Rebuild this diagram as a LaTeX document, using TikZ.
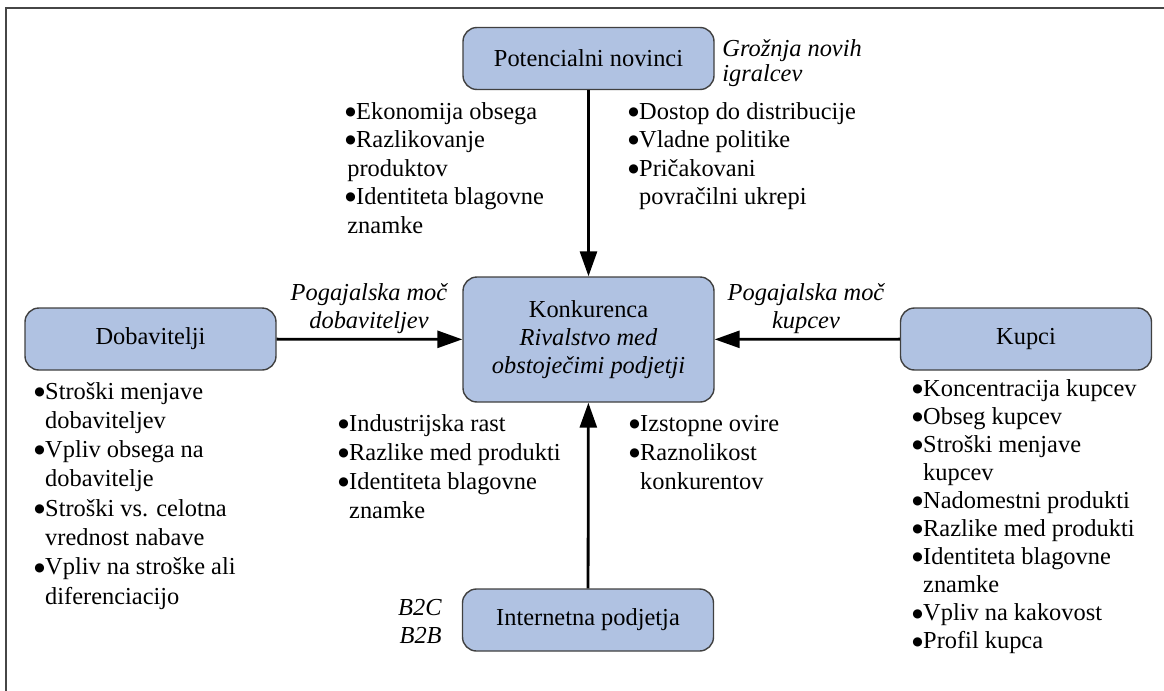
\documentclass[tikz,border=0pt]{standalone}
\usepackage{fontspec}
\setmainfont{Liberation Serif}
\newfontfamily\symfont{DejaVu Sans}
\usetikzlibrary{arrows.meta}

\definecolor{boxfill}{RGB}{176,194,226}
\definecolor{boxline}{RGB}{64,64,64}
\definecolor{framecol}{RGB}{70,70,70}

% list bullet: a round dot in a fixed-width cell
\newcommand\listdot{\makebox[5.4pt][l]{\raisebox{1.9pt}{\symfont\fontsize{6}{6}\selectfont ●}}}
% stacked lines of a bullet list; the box baseline is the first line
\newcommand\itemlist[2]{\vtop{\baselineskip=#1\relax #2}}
\newcommand\litem[1]{\hbox{\listdot#1}}
\newcommand\lcont[1]{\hbox{\hphantom{\listdot}#1}}
\newcommand\lflat[1]{\hbox{\kern1pt#1}}

\tikzset{
  force/.style={draw=boxline, line width=0.7pt, fill=boxfill, rounded corners=7pt,
    minimum width=125.5pt, minimum height=31pt, inner sep=0pt, align=center,
    font=\fontsize{12.2}{14}\selectfont},
  listtext/.style={anchor=base west, inner sep=0pt, font=\fontsize{12.2}{14}\selectfont},
  caption/.style={inner sep=0pt, font=\fontsize{12.2}{14}\selectfont\itshape},
  pressure/.style={line width=1.4pt, -{Triangle[length=12.5pt,width=8.5pt]}},
}

\begin{document}
\begin{tikzpicture}[x=0.5pt,y=-0.5pt]
\useasboundingbox (0,0) rectangle (1164,691);

% outer frame (top and left edges)
\draw[framecol, line width=1pt] (6,691) -- (6,8) -- (1164,8);

% the five forces
\node[force] (entrants) at (588.5,58.5) {Potencialni novinci};
\node[force, minimum height=62.5pt] (rivalry) at (588.5,339.5)
  {Konkurenca\\\textit{Rivalstvo med}\\\textit{obstoječimi podjetji}};
\node[force] (suppliers) at (150.5,339) {Dobavitelji};
\node[force] (buyers) at (1026,339) {Kupci};
\node[force] (internet) at (588,620) {Internetna podjetja};

% pressures acting on the rivalry
\draw[pressure] (entrants) -- (rivalry);
\draw[pressure] (suppliers) -- (rivalry);
\draw[pressure] (buyers) -- (rivalry);
\draw[pressure] (internet) -- (rivalry);

% italic captions
\node[caption, anchor=base west] (threat) at (722,56)
  {\itemlist{12.5pt}{\hbox{Grožnja novih}\hbox{igralcev}}};
\node[caption, align=center] (suppower) at (369,309) {Pogajalska moč\\dobaviteljev};
\node[caption, align=center] (buypower) at (806,309) {Pogajalska moč\\kupcev};
\node[caption, align=right, anchor=east] (btypes) at (442,621) {B2C\\B2B};

% barriers to entry
\node[listtext] (entryA) at (345,119) {\itemlist{14.25pt}{%
  \litem{Ekonomija obsega}\litem{Razlikovanje}\lflat{produktov}%
  \litem{Identiteta blagovne}\lflat{znamke}}};
\node[listtext] (entryB) at (628,119) {\itemlist{14.25pt}{%
  \litem{Dostop do distribucije}\litem{Vladne politike}%
  \litem{Pričakovani}\lcont{povračilni ukrepi}}};

% supplier power
\node[listtext] (supplist) at (34,399) {\itemlist{14.65pt}{%
  \litem{Stroški menjave}\lcont{dobaviteljev}%
  \litem{Vpliv obsega na}\lcont{dobavitelje}%
  \litem{Stroški vs. celotna}\lcont{vrednost nabave}%
  \litem{Vpliv na stroške ali}\lcont{diferenciacijo}}};

% buyer power
\node[listtext] (buylist) at (912,396) {\itemlist{14.05pt}{%
  \litem{Koncentracija kupcev}\litem{Obseg kupcev}%
  \litem{Stroški menjave}\lcont{kupcev}%
  \litem{Nadomestni produkti}\litem{Razlike med produkti}%
  \litem{Identiteta blagovne}\lcont{znamke}%
  \litem{Vpliv na kakovost}\litem{Profil kupca}}};

% rivalry determinants
\node[listtext] (rivA) at (338,431) {\itemlist{14.5pt}{%
  \litem{Industrijska rast}\litem{Razlike med produkti}%
  \litem{Identiteta blagovne}\lcont{znamke}}};
\node[listtext] (rivB) at (629,431) {\itemlist{14.5pt}{%
  \litem{Izstopne ovire}\litem{Raznolikost}\lcont{konkurentov}}};
\end{tikzpicture}
\end{document}
